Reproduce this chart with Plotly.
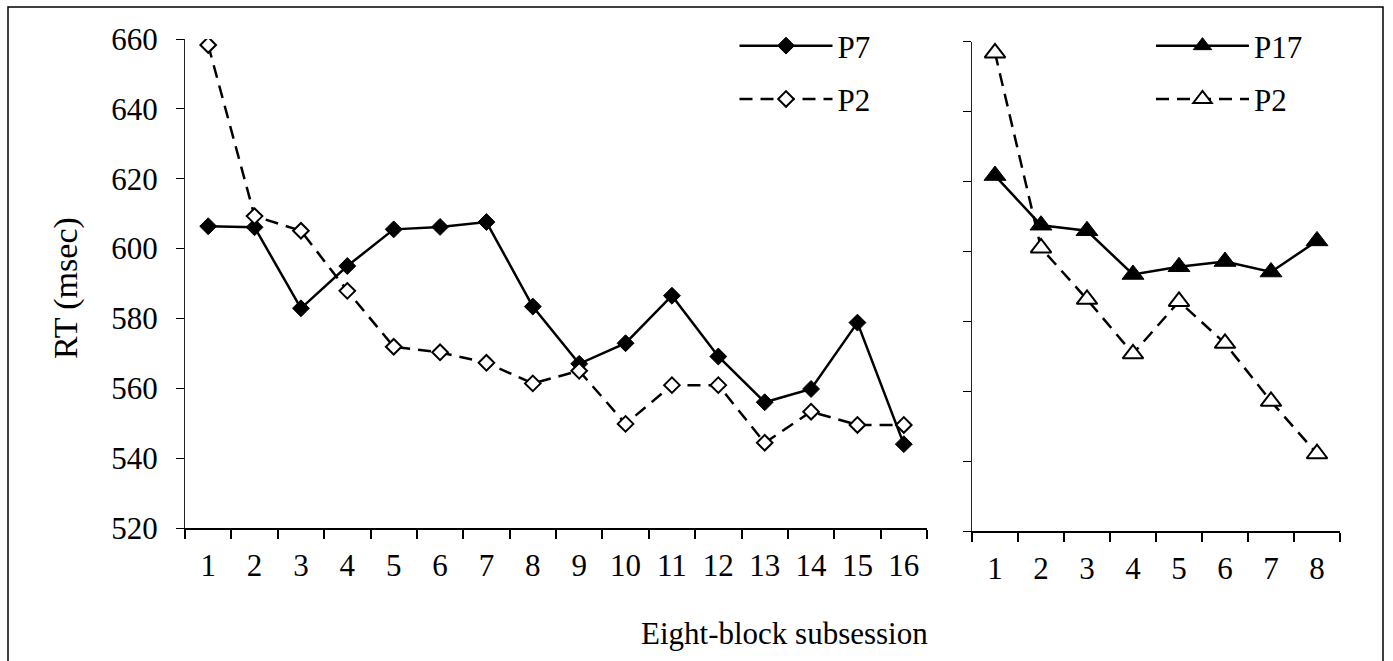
import plotly.graph_objects as go

W, H = 1393, 661

# ---- data ----
left_cats = ["1", "2", "3", "4", "5", "6", "7", "8", "9", "10", "11", "12", "13", "14", "15", "16"]
right_cats = ["1", "2", "3", "4", "5", "6", "7", "8"]
p7 = [606.4, 606.1, 582.9, 595.0, 605.5, 606.2, 607.6, 583.4,
      567.0, 572.9, 586.5, 569.1, 556.0, 559.8, 578.8, 544.0]
p2_left = [658.3, 609.3, 605.1, 587.9, 571.9, 570.3, 567.3, 561.4,
           565.0, 549.8, 560.9, 560.9, 544.4, 553.3, 549.5, 549.5]
p17 = [621.7, 607.5, 605.9, 593.4, 595.6, 597.1, 594.1, 603.0]
p2_right = [656.8, 601.0, 586.3, 570.7, 585.7, 573.7, 557.1, 542.1]
y_ticks = [520, 540, 560, 580, 600, 620, 640, 660]

FONT = "Liberation Serif"
FS = 31
DASH = "13px,8px"


def px_x(v):
    return v / W


def px_y(v):
    return (H - v) / H


fig = go.Figure()

fig.add_trace(go.Scatter(
    x=left_cats, y=p7, name="P7", xaxis="x", yaxis="y",
    mode="lines+markers", legend="legend", legendgroup="a",
    line=dict(color="black", width=2.5),
    marker=dict(symbol="diamond", size=13, color="black",
                line=dict(color="black", width=1)),
))
fig.add_trace(go.Scatter(
    x=left_cats, y=p2_left, name="P2", xaxis="x", yaxis="y",
    mode="lines+markers", legend="legend", legendgroup="b",
    line=dict(color="black", width=2.5, dash=DASH),
    marker=dict(symbol="diamond", size=12, color="white",
                line=dict(color="black", width=2)),
))
fig.add_trace(go.Scatter(
    x=right_cats, y=p17, name="P17", xaxis="x2", yaxis="y2",
    mode="lines+markers", legend="legend2", legendgroup="c",
    line=dict(color="black", width=2.5),
    marker=dict(symbol="triangle-up", size=19, color="black",
                line=dict(color="black", width=1)),
))
fig.add_trace(go.Scatter(
    x=right_cats, y=p2_right, name="P2", xaxis="x2", yaxis="y2",
    mode="lines+markers", legend="legend2", legendgroup="d",
    line=dict(color="black", width=2.5, dash=DASH),
    marker=dict(symbol="triangle-up", size=18, color="white",
                line=dict(color="black", width=2)),
))

xcommon = dict(
    type="category", tickson="boundaries", ticks="outside", ticklen=9,
    tickwidth=1.5, tickcolor="black", showline=True, linecolor="black",
    linewidth=2, showgrid=False, zeroline=False, ticklabelstandoff=9,
    tickfont=dict(family=FONT, size=FS, color="black"),
    fixedrange=True, automargin=False,
)
ycommon = dict(
    range=[520, 660], tickvals=y_ticks, ticks="outside", ticklen=8,
    tickwidth=1.2, tickcolor="black", showline=True, linecolor="#222",
    linewidth=1.2, showgrid=False, zeroline=False,
    tickfont=dict(family=FONT, size=FS, color="black"),
    fixedrange=True, automargin=False,
)

leg_common = dict(xanchor="left", yanchor="top", traceorder="grouped",
                  tracegroupgap=10, itemwidth=93, bgcolor="rgba(0,0,0,0)",
                  font=dict(family=FONT, size=FS, color="black"))

fig.update_layout(
    width=W, height=H,
    margin=dict(l=0, r=0, t=0, b=0, pad=0, autoexpand=False),
    paper_bgcolor="white", plot_bgcolor="white",
    font=dict(family=FONT, size=FS, color="black"),
    showlegend=True,
    xaxis=dict(domain=[px_x(185), px_x(927)], anchor="y",
               range=[-0.5, len(left_cats) - 0.5], **xcommon),
    yaxis=dict(domain=[px_y(528), px_y(39)], anchor="x",
               ticklabelstandoff=12, **ycommon),
    xaxis2=dict(domain=[px_x(972), px_x(1340)], anchor="y2",
                range=[-0.5, len(right_cats) - 0.5], **xcommon),
    yaxis2=dict(domain=[px_y(531), px_y(41.7)], anchor="x2",
                showticklabels=False, **ycommon),
    legend=dict(x=px_x(734.5), y=px_y(19), **leg_common),
    legend2=dict(x=px_x(1151), y=px_y(19), **leg_common),
    annotations=[
        dict(text="RT (msec)", x=px_x(66), y=px_y(288), xref="paper", yref="paper",
             textangle=-90, showarrow=False, xanchor="center", yanchor="middle",
             font=dict(family=FONT, size=34, color="black")),
        dict(text="Eight-block subsession", x=px_x(784), y=px_y(633),
             xref="paper", yref="paper", showarrow=False,
             xanchor="center", yanchor="middle",
             font=dict(family=FONT, size=FS, color="black")),
    ],
    shapes=[
        dict(type="rect", xref="paper", yref="paper",
             x0=px_x(8), x1=px_x(1383), y0=-0.2, y1=px_y(7),
             line=dict(color="black", width=1.5), fillcolor="rgba(0,0,0,0)",
             layer="below"),
    ],
)

fig.write_html("out.html")
